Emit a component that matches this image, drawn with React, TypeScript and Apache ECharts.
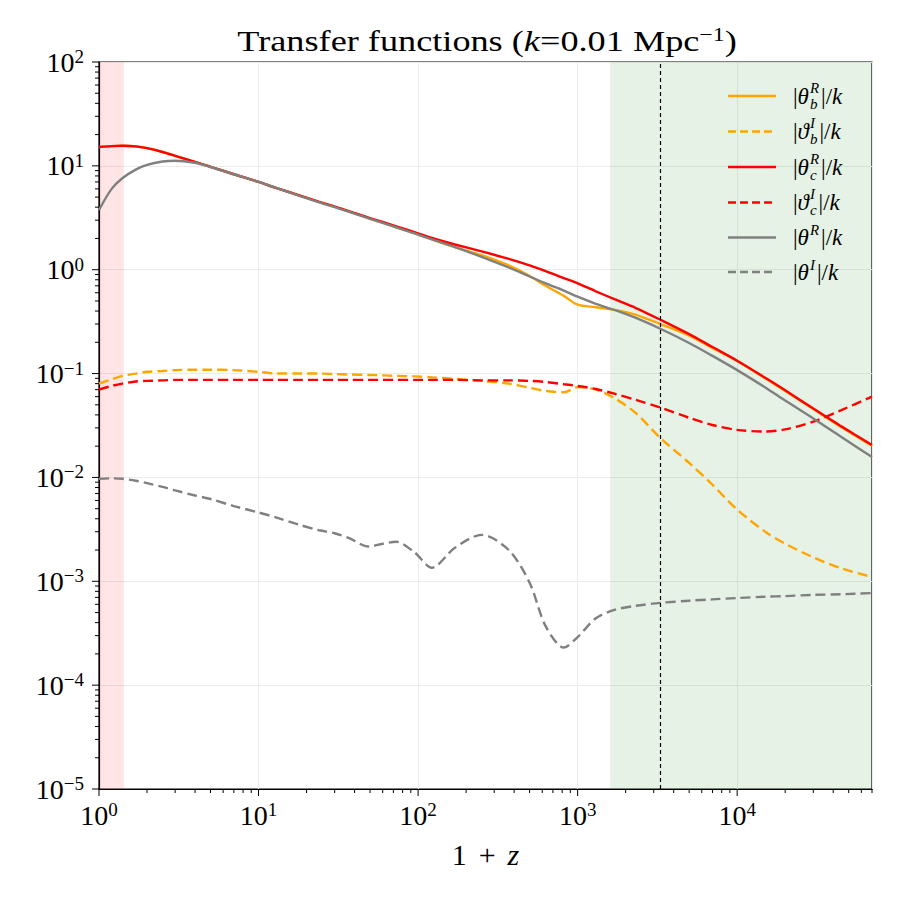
import React, { useEffect, useRef } from "react";
import * as echarts from "echarts";

// 1 + z sampling shared by every transfer function
const onePlusZ = [
  1, 1.2, 1.4, 1.7, 2, 2.5, 3, 4, 5, 7, 10, 13, 18, 24, 30, 37, 49, 60, 73, 95,
  122, 170, 250, 370, 500, 630, 820, 1000, 1300, 1700, 2300, 3300, 5000, 7000,
  10000, 15000, 20000, 30000, 45000, 70000,
];

// |theta_b^R| / k
const thetaBR = [
  15.2, 15.5, 15.6, 15.4, 14.8, 13.6, 12.5, 10.9, 9.8, 8.3, 7.0, 6.1, 5.2, 4.5,
  4.05, 3.65, 3.12, 2.83, 2.56, 2.24, 1.96, 1.65, 1.38, 1.1, 0.87, 0.7, 0.56,
  0.46, 0.435, 0.41, 0.37, 0.3, 0.232, 0.176, 0.132, 0.09, 0.068, 0.0455,
  0.0305, 0.0202,
];
// |vartheta_b^I| / k
const varthetaBI = [
  0.08, 0.088, 0.095, 0.1, 0.104, 0.106, 0.108, 0.109, 0.109, 0.108, 0.104,
  0.1, 0.1, 0.1, 0.099, 0.098, 0.097, 0.096, 0.095, 0.094, 0.092, 0.089, 0.085,
  0.08, 0.073, 0.068, 0.066, 0.074, 0.07, 0.058, 0.042, 0.024, 0.0138, 0.0085,
  0.0049, 0.003, 0.0023, 0.0017, 0.00133, 0.0011,
];
// |theta_c^R| / k
const thetaCR = [
  15.2, 15.5, 15.6, 15.4, 14.8, 13.6, 12.5, 10.9, 9.8, 8.3, 7.0, 6.1, 5.2, 4.5,
  4.05, 3.65, 3.17, 2.88, 2.62, 2.3, 2.02, 1.75, 1.5, 1.27, 1.1, 0.97, 0.83,
  0.74, 0.62, 0.52, 0.43, 0.33, 0.24, 0.18, 0.133, 0.091, 0.069, 0.046,
  0.031, 0.0205,
];
// |vartheta_c^I| / k
const varthetaCI = [
  0.07, 0.076, 0.08, 0.084, 0.085, 0.086, 0.087, 0.087, 0.087, 0.087, 0.087,
  0.087, 0.087, 0.087, 0.087, 0.087, 0.087, 0.087, 0.087, 0.087, 0.087, 0.087,
  0.086, 0.086, 0.085, 0.083, 0.079, 0.076, 0.071, 0.064, 0.056, 0.047, 0.0375,
  0.032, 0.0287, 0.0277, 0.029, 0.0345, 0.0445, 0.06,
];
// |theta^R| / k
const thetaR = [
  3.76, 6.0, 7.6, 9.2, 10.2, 11.0, 11.2, 10.7, 9.75, 8.3, 7.0, 6.1, 5.15, 4.45,
  4.0, 3.6, 3.12, 2.83, 2.56, 2.24, 1.96, 1.65, 1.33, 1.05, 0.86, 0.74, 0.63,
  0.55, 0.47, 0.41, 0.345, 0.27, 0.197, 0.148, 0.108, 0.0735, 0.055, 0.037,
  0.0245, 0.0157,
];
// |theta^I| / k
const thetaI = [
  0.0097, 0.0098, 0.0097, 0.0093, 0.0088, 0.0081, 0.0075, 0.0067, 0.0062,
  0.0053, 0.0046, 0.0041, 0.0035, 0.0031, 0.0029, 0.0026, 0.00216, 0.0023,
  0.0024, 0.0019, 0.00135, 0.0021, 0.0028, 0.002, 0.00097, 0.00037, 0.00023,
  0.00029, 0.00044, 0.00053, 0.00058, 0.00062, 0.00065, 0.00067, 0.00069,
  0.00071, 0.00072, 0.00074, 0.00075, 0.00077,
];

// shaded epochs and the vertical marker (in 1 + z)
const lateBand = [1, 1.43];
const earlyBand = [1600, 70000];
const equality = 3300;

const X_MIN = 1;
const X_MAX = 70000;
const Y_MIN = 1e-5;
const Y_MAX = 100;

const FONT = '"Liberation Serif", "DejaVu Serif", serif';

const curves = [
  { main: "θ", sup: "R", sub: "b", color: "#FFA500", dashed: false, values: thetaBR },
  { main: "ϑ", sup: "I", sub: "b", color: "#FFA500", dashed: true, values: varthetaBI },
  { main: "θ", sup: "R", sub: "c", color: "#FF0000", dashed: false, values: thetaCR },
  { main: "ϑ", sup: "I", sub: "c", color: "#FF0000", dashed: true, values: varthetaCI },
  { main: "θ", sup: "R", sub: "", color: "#808080", dashed: false, values: thetaR },
  { main: "θ", sup: "I", sub: "", color: "#808080", dashed: true, values: thetaI },
];

const DASH = [10, 5];

function powLabel(v: number) {
  const e = Math.log10(v);
  const r = Math.round(e);
  if (Math.abs(e - r) > 1e-6) return "";
  const s = r < 0 ? "\u2212" + -r : String(r);
  return `{b|10}{e|${s}}`;
}

const labelRich = {
  b: { fontFamily: FONT, fontSize: 28, color: "#000", lineHeight: 30 },
  e: { fontFamily: FONT, fontSize: 19, color: "#000", verticalAlign: "top", lineHeight: 17 },
};

// decade (major) or 2..9 (minor) tick positions inside [lo, hi]
function decadeTicks(lo: number, hi: number, minor: boolean) {
  const out: number[] = [];
  for (let e = Math.floor(Math.log10(lo)); e <= Math.ceil(Math.log10(hi)); e++) {
    const ks = minor ? [2, 3, 4, 5, 6, 7, 8, 9] : [1];
    for (const k of ks) {
      const v = k * Math.pow(10, e);
      if (v >= lo * (1 - 1e-9) && v <= hi * (1 + 1e-9)) out.push(v);
    }
  }
  return out;
}

function tickSeries(values: number[], axis: "x" | "y", len: number) {
  return {
    type: "custom",
    coordinateSystem: "cartesian2d",
    silent: true,
    clip: false,
    z: 10,
    data: values.map((v) => (axis === "x" ? [v, Y_MIN] : [X_MIN, v])),
    renderItem: (_p: any, api: any) => {
      const p = api.coord([api.value(0), api.value(1)]);
      const shape =
        axis === "x"
          ? { x1: p[0], y1: p[1], x2: p[0], y2: p[1] + len }
          : { x1: p[0], y1: p[1], x2: p[0] - len, y2: p[1] };
      return { type: "line", shape, style: { stroke: "#000", lineWidth: 1 } };
    },
  };
}

const measureCtx =
  typeof document !== "undefined" ? document.createElement("canvas").getContext("2d") : null;
function textW(s: string, size: number, italic: boolean) {
  if (!measureCtx) return s.length * size * 0.5;
  measureCtx.font = `${italic ? "italic " : ""}${size}px ${FONT}`;
  return measureCtx.measureText(s).width;
}

function legendGraphic() {
  const items: any[] = [];
  const x0 = 728;
  const x1 = 776;
  const tx = 793;
  const rowY = [96, 131.5, 167, 202.5, 237.5, 272];
  const fs = 23;
  const fsS = 15;
  curves.forEach((c, i) => {
    const y = rowY[i];
    const lineStyle: any = { stroke: c.color, lineWidth: 2.4 };
    if (c.dashed) lineStyle.lineDash = [8, 4];
    items.push({
      type: "line",
      shape: { x1: x0, y1: y, x2: x1, y2: y },
      style: lineStyle,
      silent: true,
      z: 20,
    });
    let x = tx;
    const push = (t: string, size: number, italic: boolean, dy: number) => {
      items.push({
        type: "text",
        x,
        y: y + dy,
        silent: true,
        z: 20,
        style: {
          text: t,
          fontFamily: FONT,
          fontSize: size,
          fontStyle: italic ? "italic" : "normal",
          fill: "#000",
          verticalAlign: "middle",
          align: "left",
          lineHeight: size,
        },
      });
    };
    push("|", fs, false, 0);
    x += textW("|", fs, false);
    push(c.main, fs, true, 0);
    x += textW(c.main, fs, true) + 1;
    push(c.sup, fsS, true, c.sub ? -8.5 : -7.5);
    let w = textW(c.sup, fsS, true);
    if (c.sub) {
      push(c.sub, fsS, true, 7.5);
      w = Math.max(w, textW(c.sub, fsS, true));
    }
    x += w + 2;
    push("|/", fs, false, 0);
    x += textW("|/", fs, false);
    push("k", fs, true, 0);
  });
  return items;
}

export default function App() {
  const ref = useRef<HTMLDivElement>(null);

  useEffect(() => {
    if (!ref.current) return;
    const chart = echarts.init(ref.current, undefined, { renderer: "svg" });

    const lineSeries = curves.map((c) => ({
      type: "line",
      name: `${c.main}${c.sup}${c.sub}`,
      data: onePlusZ.map((x, i) => [x, c.values[i]]),
      showSymbol: false,
      smooth: 0.3,
      z: 3,
      lineStyle: { color: c.color, width: 2.4, type: c.dashed ? DASH : "solid" },
      silent: true,
    }));

    const option: any = {
      animation: false,
      backgroundColor: "#fff",
      grid: {
        left: 99,
        right: 28,
        top: 62,
        bottom: 111,
        show: true,
        borderColor: "#000",
        borderWidth: 1.2,
        backgroundColor: "transparent",
      },
      xAxis: {
        type: "log",
        logBase: 10,
        min: X_MIN,
        max: X_MAX,
        splitNumber: 5,
        axisLine: { show: true, lineStyle: { color: "#000", width: 1.2 } },
        axisTick: { show: false },
        axisLabel: { formatter: powLabel, margin: 11, rich: labelRich, showMaxLabel: false },
        splitLine: { show: true, lineStyle: { color: "#ebebeb", width: 1 } },
        name: "{r|1}{p|+}{i|z}",
        nameLocation: "middle",
        nameGap: 50,
        nameTextStyle: {
          rich: {
            r: { fontFamily: FONT, fontSize: 30, color: "#000" },
            p: { fontFamily: FONT, fontSize: 30, color: "#000", padding: [0, 12, 0, 12] },
            i: { fontFamily: FONT, fontSize: 30, fontStyle: "italic", color: "#000" },
          },
        },
      },
      yAxis: {
        type: "log",
        logBase: 10,
        min: Y_MIN,
        max: Y_MAX,
        splitNumber: 7,
        axisLine: { show: true, lineStyle: { color: "#000", width: 1.2 } },
        axisTick: { show: false },
        axisLabel: { formatter: powLabel, margin: 15, rich: labelRich },
        splitLine: { show: true, lineStyle: { color: "#ebebeb", width: 1 } },
      },
      series: [
        {
          type: "line",
          name: "bands",
          data: [[X_MIN, Y_MIN]],
          showSymbol: false,
          lineStyle: { opacity: 0 },
          silent: true,
          z: 1,
          markArea: {
            silent: true,
            data: [
              [
                { xAxis: lateBand[0], itemStyle: { color: "rgba(255,0,0,0.1)" } },
                { xAxis: lateBand[1] },
              ],
              [
                { xAxis: earlyBand[0], itemStyle: { color: "rgba(0,128,0,0.1)" } },
                { xAxis: earlyBand[1] },
              ],
            ],
          },
          markLine: {
            silent: true,
            symbol: ["none", "none"],
            label: { show: false },
            lineStyle: { color: "#000", type: [4, 3], width: 1.2 },
            data: [{ xAxis: equality }],
          },
        },
        ...lineSeries,
        tickSeries(decadeTicks(X_MIN, X_MAX, false), "x", 7),
        tickSeries(decadeTicks(X_MIN, X_MAX, true), "x", 4),
        tickSeries(decadeTicks(Y_MIN, Y_MAX, false), "y", 7),
        tickSeries(decadeTicks(Y_MIN, Y_MAX, true), "y", 4),
      ],
      graphic: [
        {
          type: "text",
          x: 487,
          y: 41,
          scaleX: 1.25,
          silent: true,
          style: {
            text: "{a|Transfer functions (}{i|k}{a|=0.01 Mpc}{s|\u22121}{a|)}",
            align: "center",
            verticalAlign: "middle",
            rich: {
              a: { fontFamily: FONT, fontSize: 29, color: "#000", lineHeight: 32 },
              i: { fontFamily: FONT, fontSize: 29, fontStyle: "italic", color: "#000", lineHeight: 32 },
              s: { fontFamily: FONT, fontSize: 19, color: "#000", verticalAlign: "top", lineHeight: 17 },
            },
          },
        },
        ...legendGraphic(),
      ],
    };

    chart.setOption(option);
    return () => chart.dispose();
  }, []);

  return (
    <div
      ref={ref}
      style={{ position: "absolute", left: 0, top: 0, width: 900, height: 900 }}
    />
  );
}
